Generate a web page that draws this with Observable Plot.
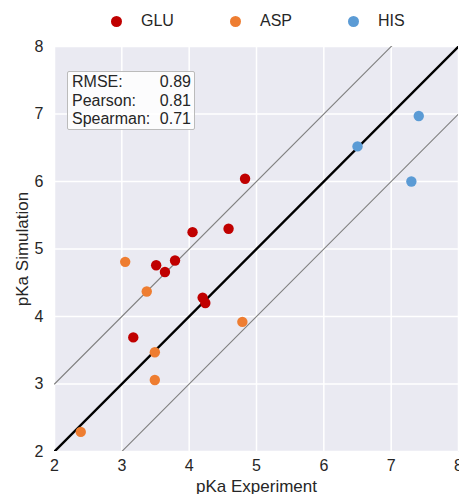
<!DOCTYPE html>
<html>
<head>
<meta charset="utf-8">
<script src="https://cdn.jsdelivr.net/npm/d3@7"></script>
<script src="https://cdn.jsdelivr.net/npm/@observablehq/plot@0.6"></script>
<style>
  body { margin: 0; background: #fff; font-family: "Liberation Sans", Arial, sans-serif; }
  #wrap { position: relative; width: 459px; height: 494px; overflow: hidden; }
  #legend { height: 36px; position: relative; font-size: 16px; color: #262626; }
  .li { position: absolute; top: 12px; display: flex; align-items: center; }
  .sw { width: 11px; height: 11px; border-radius: 50%; display: inline-block; }
  .lt { margin-left: 19px; }
  #stats { position: absolute; left: 67px; top: 71px; width: 119px; padding: 1px 3px 0 4px;
           background: rgba(255,255,255,0.85); border: 1px solid #bbb; border-radius: 2px;
           font-size: 16px; line-height: 18.5px; color: #262626; }
  .row { display: flex; justify-content: space-between; }
  g[aria-label="x-axis label"], g[aria-label="y-axis label"] { font-size: 17px; }
  g[aria-label="x-axis label"] text, g[aria-label="y-axis label"] text { font-size: 17px; }
</style>
</head>
<body>
<div id="wrap">
  <div id="legend"></div>
  <div id="chart"></div>
  <div id="stats"></div>
</div>
<script>
const groups = ["GLU", "ASP", "HIS"];
const colors = ["#c00000", "#ee7d31", "#5b9bd5"];

const gluExp = [4.83, 4.05, 4.585, 3.51, 3.79, 3.64, 4.20, 4.24, 3.17];
const gluSim = [6.04, 5.25, 5.30, 4.76, 4.83, 4.66, 4.28, 4.20, 3.69];
const aspExp = [3.05, 3.37, 4.79, 3.49, 3.49, 2.39];
const aspSim = [4.81, 4.37, 3.92, 3.47, 3.06, 2.29];
const hisExp = [7.41, 6.50, 7.30];
const hisSim = [6.97, 6.52, 6.00];

const statLabels = ["RMSE:", "Pearson:", "Spearman:"];
const statValues = ["0.89", "0.81", "0.71"];

const axisTicks = [2, 3, 4, 5, 6, 7, 8];
const domain = [2, 8];
const offsets = [1, -1];

const points = [
  ...gluExp.map((x, i) => ({x, y: gluSim[i], g: "GLU"})),
  ...aspExp.map((x, i) => ({x, y: aspSim[i], g: "ASP"})),
  ...hisExp.map((x, i) => ({x, y: hisSim[i], g: "HIS"}))
];

const diag = domain.map(v => ({x: v, y: v}));
const bands = offsets.flatMap(o => domain.map(v => ({x: v, y: v + o, o})));
const fmt = d3.format("d");

const chart = Plot.plot({
  width: 459,
  height: 458,
  marginLeft: 54,
  marginRight: 1,
  marginTop: 10,
  marginBottom: 43,
  style: { fontFamily: "'Liberation Sans', Arial, sans-serif", fontSize: "16px", color: "#262626", background: "transparent", overflow: "visible" },
  x: { domain },
  y: { domain },
  color: { domain: groups, range: colors },
  marks: [
    Plot.frame({ fill: "#eaeaf2", stroke: null }),
    Plot.gridX(axisTicks, { stroke: "#fff", strokeOpacity: 1, strokeWidth: 1.5 }),
    Plot.gridY(axisTicks, { stroke: "#fff", strokeOpacity: 1, strokeWidth: 1.5 }),
    Plot.line(bands, { x: "x", y: "y", z: "o", stroke: "#808080", strokeWidth: 1.1, clip: true }),
    Plot.line(diag, { x: "x", y: "y", stroke: "#000", strokeWidth: 2.3, clip: true }),
    Plot.dot(points, { x: "x", y: "y", fill: "g", r: 5.2, stroke: null }),
    Plot.axisX(axisTicks, { tickSize: 0, tickPadding: 8, fontSize: 16, tickFormat: fmt, label: "pKa Experiment", labelAnchor: "center", labelArrow: "none", labelOffset: 40 }),
    Plot.axisY(axisTicks, { tickSize: 0, tickPadding: 11, fontSize: 16, tickFormat: fmt, label: "pKa Simulation", labelAnchor: "center", labelArrow: "none", labelOffset: 39 })
  ]
});
document.getElementById("chart").appendChild(chart);

const legend = document.getElementById("legend");
const swX = [111, 230, 348];
groups.forEach((g, i) => {
  const d = document.createElement("div");
  d.className = "li";
  d.style.left = swX[i] + "px";
  d.innerHTML = `<span class="sw" style="background:${colors[i]}"></span><span class="lt">${g}</span>`;
  legend.appendChild(d);
});

const stats = document.getElementById("stats");
statLabels.forEach((l, i) => {
  const r = document.createElement("div");
  r.className = "row";
  r.innerHTML = `<span>${l}</span><span>${statValues[i]}</span>`;
  stats.appendChild(r);
});
</script>
</body>
</html>
